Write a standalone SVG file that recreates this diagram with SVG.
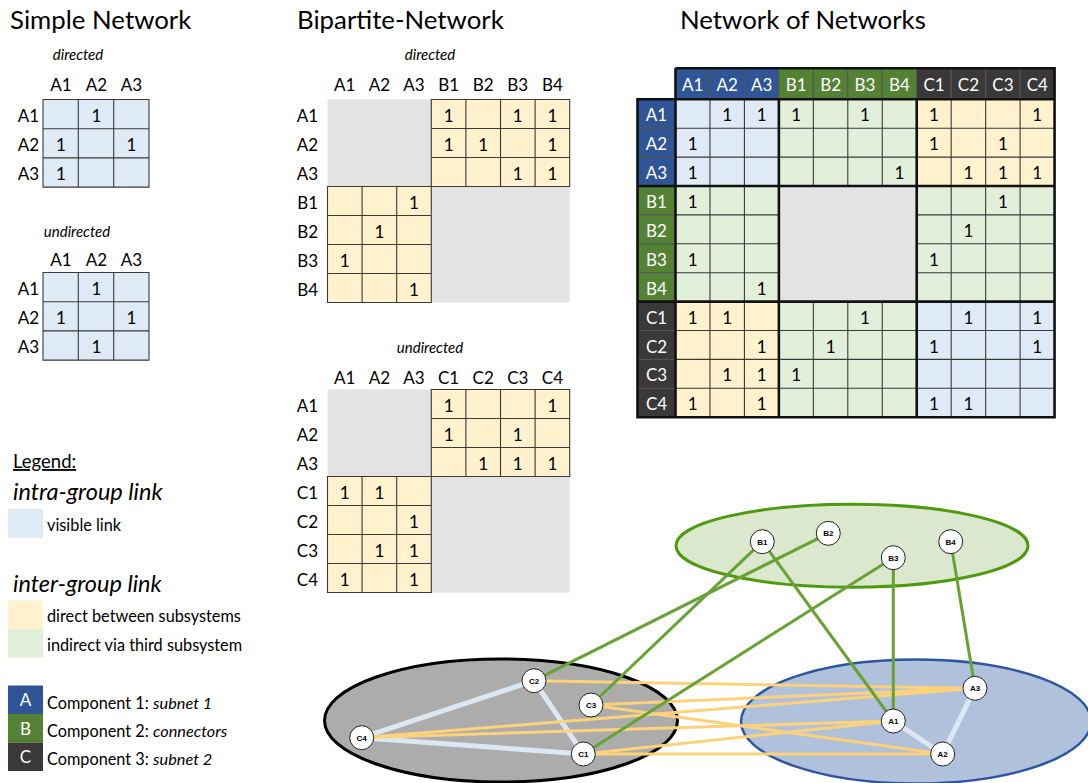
<svg xmlns="http://www.w3.org/2000/svg" width="1088" height="783" viewBox="0 0 1088 783">
<style>
  text { font-family: Lato, "Open Sans", "Liberation Sans", sans-serif; fill: #000; }
  .title { font-size: 25.8px; }
  .cap { font-size: 15px; font-style: italic; text-anchor: middle; }
  .hd { font-size: 17px; text-anchor: middle; }
  .rl { font-size: 17px; text-anchor: end; }
  .v { font-size: 17px; text-anchor: middle; }
  .wh { font-size: 17px; text-anchor: middle; fill: #fff; }
  .lg { font-size: 16.3px; }
  .lgh { font-size: 23.5px; font-style: italic; }
  .blue { fill: #deebf7; }
  .yel { fill: #fff2cc; }
  .grn { fill: #e2efda; }
  .gry { fill: #e3e3e3; }
  .grid { fill: none; stroke: #3a3a3a; stroke-width: 1.1; }
  .thick { fill: none; stroke: #111; stroke-width: 2.6; }
  .hA { fill: #2f5597; }
  .hB { fill: #548235; }
  .hC { fill: #3a3838; }
  .hcell { stroke: #555; stroke-width: 1; }
  .e-intra { stroke: #dbe8f4; stroke-width: 5; stroke-linecap: round; }
  .e-direct { stroke: #fdd27a; stroke-width: 3; }
  .e-indirect { stroke: #67a232; stroke-width: 3; }
  .node circle { fill: #fff; stroke: #222; stroke-width: 1; }
  .node text { font-family: "Liberation Sans", Arial, sans-serif; font-size: 8px; font-weight: bold; text-anchor: middle; }
</style>

<!-- Titles -->
<text class="title" x="10" y="29">Simple Network</text>
<text class="title" x="297" y="29">Bipartite-Network</text>
<text class="title" x="680" y="29">Network of Networks</text>

<!-- Simple network, directed -->
<g id="simple-directed">
  <text class="cap" x="78" y="60">directed</text>
  <text class="hd" x="61" y="90.5">A1</text>
  <text class="hd" x="96.5" y="90.5">A2</text>
  <text class="hd" x="131.5" y="90.5">A3</text>
  <text class="rl" x="39" y="121.5">A1</text>
  <text class="rl" x="39" y="150.7">A2</text>
  <text class="rl" x="39" y="179.9">A3</text>
  <rect class="blue" x="43" y="99.5" width="106" height="87.6"/>
  <path class="grid" d="M43 99.5H149V187.1H43Z M78.3 99.5V187.1 M113.7 99.5V187.1 M43 128.7H149 M43 157.9H149"/>
  <text class="v" x="96.5" y="121.5">1</text>
  <text class="v" x="61" y="150.7">1</text>
  <text class="v" x="131.5" y="150.7">1</text>
  <text class="v" x="61" y="179.9">1</text>
</g>

<!-- Simple network, undirected -->
<g id="simple-undirected">
  <text class="cap" x="77" y="237">undirected</text>
  <text class="hd" x="61" y="265.5">A1</text>
  <text class="hd" x="96.5" y="265.5">A2</text>
  <text class="hd" x="131.5" y="265.5">A3</text>
  <text class="rl" x="39" y="294.6">A1</text>
  <text class="rl" x="39" y="323.8">A2</text>
  <text class="rl" x="39" y="353">A3</text>
  <rect class="blue" x="43" y="272.5" width="106" height="87.6"/>
  <path class="grid" d="M43 272.5H149V360.1H43Z M78.3 272.5V360.1 M113.7 272.5V360.1 M43 301.7H149 M43 330.9H149"/>
  <text class="v" x="96.5" y="294.6">1</text>
  <text class="v" x="61" y="323.8">1</text>
  <text class="v" x="131.5" y="323.8">1</text>
  <text class="v" x="96.5" y="353">1</text>
</g>

<!-- Bipartite network, directed -->
<g id="bipartite-directed">
  <text class="cap" x="430" y="60">directed</text>
  <text class="hd" x="344.8" y="90.5">A1</text>
  <text class="hd" x="379.4" y="90.5">A2</text>
  <text class="hd" x="414" y="90.5">A3</text>
  <text class="hd" x="448.6" y="90.5">B1</text>
  <text class="hd" x="483.2" y="90.5">B2</text>
  <text class="hd" x="517.8" y="90.5">B3</text>
  <text class="hd" x="552.4" y="90.5">B4</text>
  <text class="rl" x="318" y="121.5">A1</text>
  <text class="rl" x="318" y="150.5">A2</text>
  <text class="rl" x="318" y="179.5">A3</text>
  <text class="rl" x="318" y="208.5">B1</text>
  <text class="rl" x="318" y="237.5">B2</text>
  <text class="rl" x="318" y="266.5">B3</text>
  <text class="rl" x="318" y="295.5">B4</text>
  <rect class="gry" x="327.5" y="99.5" width="242.2" height="203"/>
  <rect class="yel" x="431.3" y="99.5" width="138.4" height="87"/>
  <path class="grid" d="M431.3 99.5H569.7V186.5H431.3Z M465.9 99.5V186.5 M500.5 99.5V186.5 M535.1 99.5V186.5 M431.3 128.5H569.7 M431.3 157.5H569.7"/>
  <rect class="yel" x="327.5" y="186.5" width="103.8" height="116"/>
  <path class="grid" d="M327.5 186.5H431.3V302.5H327.5Z M362.1 186.5V302.5 M396.7 186.5V302.5 M327.5 215.5H431.3 M327.5 244.5H431.3 M327.5 273.5H431.3"/>
  <text class="v" x="448.6" y="121.5">1</text>
  <text class="v" x="517.8" y="121.5">1</text>
  <text class="v" x="552.4" y="121.5">1</text>
  <text class="v" x="448.6" y="150.5">1</text>
  <text class="v" x="483.2" y="150.5">1</text>
  <text class="v" x="552.4" y="150.5">1</text>
  <text class="v" x="517.8" y="179.5">1</text>
  <text class="v" x="552.4" y="179.5">1</text>
  <text class="v" x="414" y="208.5">1</text>
  <text class="v" x="379.4" y="237.5">1</text>
  <text class="v" x="344.8" y="266.5">1</text>
  <text class="v" x="414" y="295.5">1</text>
</g>

<!-- Bipartite network, undirected -->
<g id="bipartite-undirected">
  <text class="cap" x="430" y="353">undirected</text>
  <text class="hd" x="344.8" y="383.5">A1</text>
  <text class="hd" x="379.4" y="383.5">A2</text>
  <text class="hd" x="414" y="383.5">A3</text>
  <text class="hd" x="448.6" y="383.5">C1</text>
  <text class="hd" x="483.2" y="383.5">C2</text>
  <text class="hd" x="517.8" y="383.5">C3</text>
  <text class="hd" x="552.4" y="383.5">C4</text>
  <text class="rl" x="318" y="411.5">A1</text>
  <text class="rl" x="318" y="440.5">A2</text>
  <text class="rl" x="318" y="469.5">A3</text>
  <text class="rl" x="318" y="498.5">C1</text>
  <text class="rl" x="318" y="527.5">C2</text>
  <text class="rl" x="318" y="556.5">C3</text>
  <text class="rl" x="318" y="585.5">C4</text>
  <rect class="gry" x="327.5" y="389.5" width="242.2" height="203"/>
  <rect class="yel" x="431.3" y="389.5" width="138.4" height="87"/>
  <path class="grid" d="M431.3 389.5H569.7V476.5H431.3Z M465.9 389.5V476.5 M500.5 389.5V476.5 M535.1 389.5V476.5 M431.3 418.5H569.7 M431.3 447.5H569.7"/>
  <rect class="yel" x="327.5" y="476.5" width="103.8" height="116"/>
  <path class="grid" d="M327.5 476.5H431.3V592.5H327.5Z M362.1 476.5V592.5 M396.7 476.5V592.5 M327.5 505.5H431.3 M327.5 534.5H431.3 M327.5 563.5H431.3"/>
  <text class="v" x="448.6" y="411.5">1</text>
  <text class="v" x="552.4" y="411.5">1</text>
  <text class="v" x="448.6" y="440.5">1</text>
  <text class="v" x="517.8" y="440.5">1</text>
  <text class="v" x="483.2" y="469.5">1</text>
  <text class="v" x="517.8" y="469.5">1</text>
  <text class="v" x="552.4" y="469.5">1</text>
  <text class="v" x="344.8" y="498.5">1</text>
  <text class="v" x="379.4" y="498.5">1</text>
  <text class="v" x="414" y="527.5">1</text>
  <text class="v" x="379.4" y="556.5">1</text>
  <text class="v" x="414" y="556.5">1</text>
  <text class="v" x="344.8" y="585.5">1</text>
  <text class="v" x="414" y="585.5">1</text>
</g>

<!-- Network of networks: combined adjacency matrix -->
<g id="network-of-networks">
  <!-- block fills -->
  <rect class="blue" x="675.5" y="99.3" width="103.38" height="86.7"/>
  <rect class="grn" x="778.88" y="99.3" width="137.84" height="86.7"/>
  <rect class="yel" x="916.72" y="99.3" width="137.84" height="86.7"/>
  <rect class="grn" x="675.5" y="186" width="103.38" height="115.6"/>
  <rect class="grn" x="916.72" y="186" width="137.84" height="115.6"/>
  <rect class="yel" x="675.5" y="301.6" width="103.38" height="115.6"/>
  <rect class="grn" x="778.88" y="301.6" width="137.84" height="115.6"/>
  <rect class="blue" x="916.72" y="301.6" width="137.84" height="115.6"/>
  <path class="grid" d="M709.96 99.3V417.2 M744.42 99.3V417.2 M813.34 99.3V417.2 M847.8 99.3V417.2 M882.26 99.3V417.2 M951.18 99.3V417.2 M985.64 99.3V417.2 M1020.1 99.3V417.2 M675.5 128.2H1054.56 M675.5 157.1H1054.56 M675.5 214.9H1054.56 M675.5 243.8H1054.56 M675.5 272.7H1054.56 M675.5 330.5H1054.56 M675.5 359.4H1054.56 M675.5 388.3H1054.56"/>
  <rect class="gry" x="778.88" y="186" width="137.84" height="115.6"/>

  <!-- column headers -->
  <rect class="hA hcell" x="675.5" y="68.3" width="34.46" height="31"/>
  <rect class="hA hcell" x="709.96" y="68.3" width="34.46" height="31"/>
  <rect class="hA hcell" x="744.42" y="68.3" width="34.46" height="31"/>
  <rect class="hB hcell" x="778.88" y="68.3" width="34.46" height="31"/>
  <rect class="hB hcell" x="813.34" y="68.3" width="34.46" height="31"/>
  <rect class="hB hcell" x="847.8" y="68.3" width="34.46" height="31"/>
  <rect class="hB hcell" x="882.26" y="68.3" width="34.46" height="31"/>
  <rect class="hC hcell" x="916.72" y="68.3" width="34.46" height="31"/>
  <rect class="hC hcell" x="951.18" y="68.3" width="34.46" height="31"/>
  <rect class="hC hcell" x="985.64" y="68.3" width="34.46" height="31"/>
  <rect class="hC hcell" x="1020.1" y="68.3" width="34.46" height="31"/>
  <text class="wh" x="692.7" y="90.5">A1</text>
  <text class="wh" x="727.2" y="90.5">A2</text>
  <text class="wh" x="761.7" y="90.5">A3</text>
  <text class="wh" x="796.1" y="90.5">B1</text>
  <text class="wh" x="830.6" y="90.5">B2</text>
  <text class="wh" x="865" y="90.5">B3</text>
  <text class="wh" x="899.5" y="90.5">B4</text>
  <text class="wh" x="934" y="90.5">C1</text>
  <text class="wh" x="968.4" y="90.5">C2</text>
  <text class="wh" x="1002.9" y="90.5">C3</text>
  <text class="wh" x="1037.3" y="90.5">C4</text>

  <!-- row headers -->
  <rect class="hA hcell" x="637.5" y="99.3" width="38" height="28.9"/>
  <rect class="hA hcell" x="637.5" y="128.2" width="38" height="28.9"/>
  <rect class="hA hcell" x="637.5" y="157.1" width="38" height="28.9"/>
  <rect class="hB hcell" x="637.5" y="186" width="38" height="28.9"/>
  <rect class="hB hcell" x="637.5" y="214.9" width="38" height="28.9"/>
  <rect class="hB hcell" x="637.5" y="243.8" width="38" height="28.9"/>
  <rect class="hB hcell" x="637.5" y="272.7" width="38" height="28.9"/>
  <rect class="hC hcell" x="637.5" y="301.6" width="38" height="28.9"/>
  <rect class="hC hcell" x="637.5" y="330.5" width="38" height="28.9"/>
  <rect class="hC hcell" x="637.5" y="359.4" width="38" height="28.9"/>
  <rect class="hC hcell" x="637.5" y="388.3" width="38" height="28.9"/>
  <text class="wh" x="656.5" y="121.3">A1</text>
  <text class="wh" x="656.5" y="150.2">A2</text>
  <text class="wh" x="656.5" y="179.1">A3</text>
  <text class="wh" x="656.5" y="208">B1</text>
  <text class="wh" x="656.5" y="236.9">B2</text>
  <text class="wh" x="656.5" y="265.8">B3</text>
  <text class="wh" x="656.5" y="294.7">B4</text>
  <text class="wh" x="656.5" y="323.6">C1</text>
  <text class="wh" x="656.5" y="352.5">C2</text>
  <text class="wh" x="656.5" y="381.4">C3</text>
  <text class="wh" x="656.5" y="410.3">C4</text>

  <!-- group borders -->
  <path class="thick" d="M675.5 68.3H1054.56V417.2H637.5V99.3H1054.56 M675.5 68.3V417.2 M778.88 99.3V417.2 M916.72 99.3V417.2 M637.5 186H1054.56 M637.5 301.6H1054.56"/>

  <!-- entries -->
  <text class="v" x="727.2" y="121.3">1</text>
  <text class="v" x="761.7" y="121.3">1</text>
  <text class="v" x="796.1" y="121.3">1</text>
  <text class="v" x="865" y="121.3">1</text>
  <text class="v" x="934" y="121.3">1</text>
  <text class="v" x="1037.3" y="121.3">1</text>

  <text class="v" x="692.7" y="150.2">1</text>
  <text class="v" x="934" y="150.2">1</text>
  <text class="v" x="1002.9" y="150.2">1</text>

  <text class="v" x="692.7" y="179.1">1</text>
  <text class="v" x="899.5" y="179.1">1</text>
  <text class="v" x="968.4" y="179.1">1</text>
  <text class="v" x="1002.9" y="179.1">1</text>
  <text class="v" x="1037.3" y="179.1">1</text>

  <text class="v" x="692.7" y="208">1</text>
  <text class="v" x="1002.9" y="208">1</text>

  <text class="v" x="968.4" y="236.9">1</text>

  <text class="v" x="692.7" y="265.8">1</text>
  <text class="v" x="934" y="265.8">1</text>

  <text class="v" x="761.7" y="294.7">1</text>

  <text class="v" x="692.7" y="323.6">1</text>
  <text class="v" x="727.2" y="323.6">1</text>
  <text class="v" x="865" y="323.6">1</text>
  <text class="v" x="968.4" y="323.6">1</text>
  <text class="v" x="1037.3" y="323.6">1</text>

  <text class="v" x="761.7" y="352.5">1</text>
  <text class="v" x="830.6" y="352.5">1</text>
  <text class="v" x="934" y="352.5">1</text>
  <text class="v" x="1037.3" y="352.5">1</text>

  <text class="v" x="727.2" y="381.4">1</text>
  <text class="v" x="761.7" y="381.4">1</text>
  <text class="v" x="796.1" y="381.4">1</text>

  <text class="v" x="692.7" y="410.3">1</text>
  <text class="v" x="761.7" y="410.3">1</text>
  <text class="v" x="934" y="410.3">1</text>
  <text class="v" x="968.4" y="410.3">1</text>
</g>

<!-- Legend -->
<g id="legend">
  <text x="13" y="468" font-size="18.5" text-decoration="underline">Legend:</text>
  <text class="lgh" x="13" y="500">intra-group link</text>
  <rect class="blue" x="8" y="509" width="35" height="29"/>
  <text class="lg" x="47" y="531">visible link</text>
  <text class="lgh" x="13" y="591.5">inter-group link</text>
  <rect class="yel" x="8" y="600.5" width="35" height="28.5"/>
  <rect class="grn" x="8" y="629" width="35" height="28.5"/>
  <text class="lg" x="47" y="622">direct between subsystems</text>
  <text class="lg" x="47" y="651">indirect via third subsystem</text>
  <rect class="hA" x="8" y="685.5" width="35" height="28.5"/>
  <rect class="hB" x="8" y="714" width="35" height="28.5"/>
  <rect class="hC" x="8" y="742.5" width="35" height="28.5"/>
  <text class="wh" x="25.5" y="706" font-size="18">A</text>
  <text class="wh" x="25.5" y="734.5" font-size="18">B</text>
  <text class="wh" x="25.5" y="763" font-size="18">C</text>
  <text class="lg" x="47" y="708.5">Component 1: <tspan font-style="italic">subnet 1</tspan></text>
  <text class="lg" x="47" y="737">Component 2: <tspan font-style="italic">connectors</tspan></text>
  <text class="lg" x="47" y="765">Component 3: <tspan font-style="italic">subnet 2</tspan></text>
</g>

<!-- Subsystem groups -->
<g id="groups">
  <ellipse id="group-B" cx="852" cy="545.7" rx="176" ry="41.5" fill="#dce8ce" stroke="#4e9a0e" stroke-width="3"/>
  <ellipse id="group-C" cx="501" cy="720.5" rx="176.5" ry="61.5" fill="#acacac" stroke="#000" stroke-width="3"/>
  <ellipse id="group-A" cx="916" cy="721.5" rx="175" ry="62" fill="#b0c1dc" stroke="#2d55a0" stroke-width="2.5"/>
</g>

<!-- Links -->
<g id="connectors">
  <line class="e-intra" x1="534" y1="680.7" x2="361.7" y2="737.7"/>
  <line class="e-intra" x1="534" y1="680.7" x2="583.3" y2="754"/>
  <line class="e-intra" x1="361.7" y1="737.7" x2="583.3" y2="754"/>
  <line class="e-intra" x1="893.3" y1="721" x2="942.7" y2="754"/>
  <line class="e-intra" x1="942.7" y1="754" x2="975" y2="688.3"/>

  <line class="e-direct" x1="893.3" y1="721" x2="583.3" y2="754"/>
  <line class="e-direct" x1="893.3" y1="721" x2="361.7" y2="737.7"/>
  <line class="e-direct" x1="942.7" y1="754" x2="583.3" y2="754"/>
  <line class="e-direct" x1="942.7" y1="754" x2="591" y2="705"/>
  <line class="e-direct" x1="975" y1="688.3" x2="534" y2="680.7"/>
  <line class="e-direct" x1="975" y1="688.3" x2="591" y2="705"/>
  <line class="e-direct" x1="975" y1="688.3" x2="361.7" y2="737.7"/>

  <line class="e-indirect" x1="762.3" y1="541.7" x2="893.3" y2="721"/>
  <line class="e-indirect" x1="762.3" y1="541.7" x2="591" y2="705"/>
  <line class="e-indirect" x1="828.3" y1="533.3" x2="534" y2="680.7"/>
  <line class="e-indirect" x1="893.3" y1="557.7" x2="893.3" y2="721"/>
  <line class="e-indirect" x1="893.3" y1="557.7" x2="583.3" y2="754"/>
  <line class="e-indirect" x1="950.7" y1="541.7" x2="975" y2="688.3"/>
</g>

<!-- Nodes -->
<g id="node-B1" class="node"><circle cx="762.3" cy="541.7" r="12"/><text x="762.3" y="544.6">B1</text></g>
<g id="node-B2" class="node"><circle cx="828.3" cy="533.3" r="12"/><text x="828.3" y="536.2">B2</text></g>
<g id="node-B3" class="node"><circle cx="893.3" cy="557.7" r="12"/><text x="893.3" y="560.6">B3</text></g>
<g id="node-B4" class="node"><circle cx="950.7" cy="541.7" r="12"/><text x="950.7" y="544.6">B4</text></g>
<g id="node-C1" class="node"><circle cx="583.3" cy="754" r="12"/><text x="583.3" y="756.9">C1</text></g>
<g id="node-C2" class="node"><circle cx="534" cy="680.7" r="12"/><text x="534" y="683.6">C2</text></g>
<g id="node-C3" class="node"><circle cx="591" cy="705" r="12"/><text x="591" y="707.9">C3</text></g>
<g id="node-C4" class="node"><circle cx="361.7" cy="737.7" r="12"/><text x="361.7" y="740.6">C4</text></g>
<g id="node-A1" class="node"><circle cx="893.3" cy="721" r="12"/><text x="893.3" y="723.9">A1</text></g>
<g id="node-A2" class="node"><circle cx="942.7" cy="754" r="12"/><text x="942.7" y="756.9">A2</text></g>
<g id="node-A3" class="node"><circle cx="975" cy="688.3" r="12"/><text x="975" y="691.2">A3</text></g>
</svg>
